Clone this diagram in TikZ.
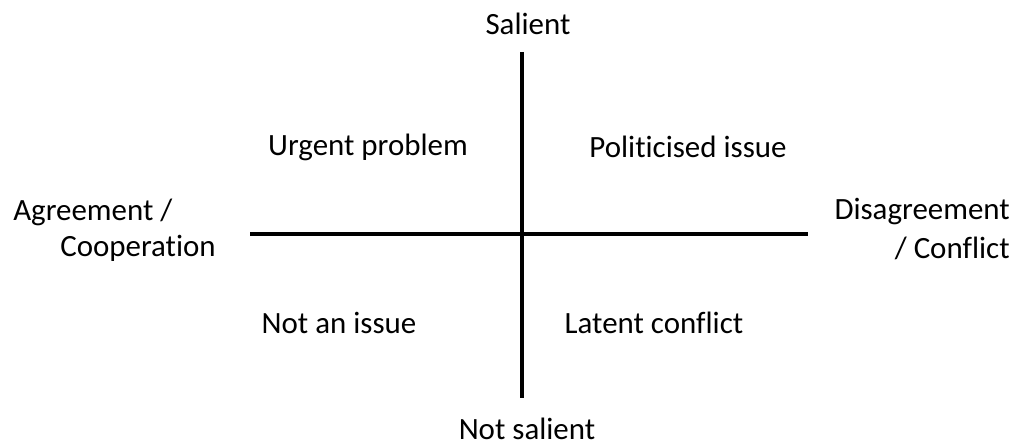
\documentclass[tikz,border=0pt]{standalone}
\usepackage{fontspec}
\setmainfont{Carlito}[Ligatures=NoCommon]

\begin{document}
\begin{tikzpicture}[x=0.025cm,y=-0.025cm,
	axis/.style={line width=2.2pt},
	lbl/.style={font=\fontsize{22}{26}\selectfont,inner sep=0pt}]
\useasboundingbox (0,0) rectangle (1014,446);
\coordinate (top) at (522,52);
\coordinate (bottom) at (522,398);
\coordinate (left) at (250,234);
\coordinate (right) at (808,234);
\draw[axis] (top) -- (bottom);
\draw[axis] (left) -- (right);
\node[lbl] (salient) at (528,24) {Salient};
\node[lbl] (notsalient) at (527,429) {Not salient};
\node[lbl,anchor=west] (agree) at (13,212) {Agreement /};
\node[lbl,anchor=west] (coop) at (60,248) {Cooperation};
\node[lbl,anchor=east] (disagree) at (1010,212) {Disagreement};
\node[lbl,anchor=east] (conflict) at (1010,248) {/ Conflict};
\node[lbl] (urgent) at (368,147) {Urgent problem};
\node[lbl] (politicised) at (688,147) {Politicised issue};
\node[lbl] (notissue) at (339,323) {Not an issue};
\node[lbl] (latent) at (654,323) {Latent conflict};
\end{tikzpicture}
\end{document}
